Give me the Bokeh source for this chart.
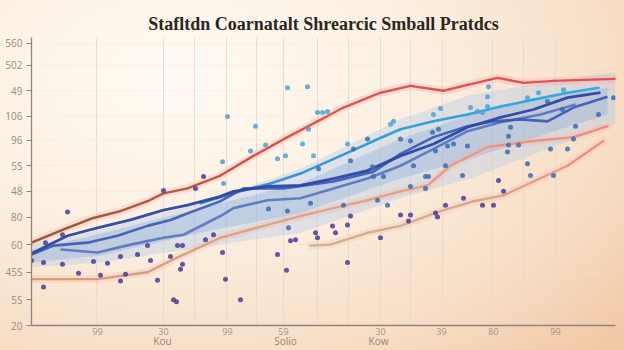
import numpy as np
from bokeh.plotting import figure
from bokeh.models import ColumnDataSource, Range1d, FixedTicker, LinearAxis
from bokeh.embed import file_html
from bokeh.resources import INLINE

title_text = "Stafltdn Coarnatalt Shrearcic Smball Pratdcs"

# ---- axes ----
y_ticks = [0, 13, 27, 41, 55, 68, 81, 94, 106, 119, 132, 143]
y_labels = ["20", "5S", "45S", "60", "80", "48", "5S", "96", "106", "49", "502", "560"]
x_ticks = [16.5, 33, 49, 63, 87.25, 102.5, 115.5, 131]
x_labels = ["99", "30", "99", "59", "30", "39", "80", "99"]
grid_x = [16.25, 33, 40.75, 48.75, 56.25, 63, 71.5, 79.25, 87.25, 94.75, 102.75, 115.25, 123, 131]
group_names = ["Kou", "Solio", "Kow"]
group_x = [32.75, 63.5, 86.75]

# ---- lines ----
red_x = [0, 9, 15.5, 22.25, 29, 33, 39, 47.25, 55.5, 64, 71.5, 78, 87.25, 94.75, 103, 109, 116.5, 123, 130.5, 146]
red_y = [42, 49.5, 54.5, 58, 63, 67, 69.5, 76, 86, 95.5, 103.5, 110.5, 118, 121.5, 119, 122, 125.5, 123, 124, 125]

salmon1_x = [0, 16.5, 29, 36.5, 47.25, 59, 67.25, 75.5, 84, 92.25, 99, 104.75, 114, 125.5, 135.5, 144]
salmon1_y = [23.5, 23.5, 27, 34.5, 44.5, 51, 55.5, 59.5, 63.5, 68, 71, 81, 90.5, 93.5, 95.5, 101]

salmon2_x = [69.75, 74.75, 84, 92.25, 102.25, 110.5, 118, 125.5, 134, 143]
salmon2_y = [40.5, 41, 47, 50.5, 58, 63, 66, 73, 81, 93.5]

navyA_x = [0, 9, 16.5, 24.75, 33, 39, 47.25, 50.5, 59, 67.25, 75.5, 84, 92.25, 100.5, 109, 117.25, 125.5, 134, 142.25]
navyA_y = [36.5, 45.5, 49.5, 53.5, 58.5, 61, 65.5, 68, 70.5, 71, 74.5, 78.5, 86, 92, 100.5, 105.5, 109.5, 115.5, 118]

navyB_x = [0, 5.5, 14, 21.5, 29, 34.75, 40.5, 47.25, 53, 63, 75.5, 85.5, 92.25, 100.5, 109, 115.5, 122.25, 129, 135.5, 144]
navyB_y = [36, 40.5, 42, 45.5, 50.5, 53.5, 58, 63, 69.5, 69.5, 73, 78, 87, 95.5, 101, 103.5, 104.5, 103.5, 110.5, 116]

slate_x = [7.25, 16.5, 24.75, 33, 38, 47.25, 50.5, 59, 67.25, 75.5, 84, 92.25, 100.5, 109, 117.25, 127.25, 136]
slate_y = [38.5, 37, 41, 44.5, 46, 55.5, 59.5, 63.5, 64.5, 69.5, 74.5, 81, 89.5, 98.5, 103, 107, 112]

cyan_x = [42.25, 53, 59.75, 67.25, 77.25, 85.5, 92.25, 100.5, 109, 117.25, 125.5, 134, 141.75]
cyan_y = [62, 68.5, 72, 77, 86, 93.5, 99.5, 103.5, 107, 111, 114.5, 118, 120.5]

# ---- bands ----
band_out_x = [0, 17.25, 42.25, 67.25, 92.25, 109.75, 132.25, 146]
band_out_hi = [40.5, 48.5, 62, 79.5, 104.5, 117, 124.5, 128.5]
band_out_lo = [29.5, 32, 39.5, 47, 64.5, 74.5, 92, 102]
band_in_x = [0, 17.25, 42.25, 67.25, 92.25, 109.75, 132.25, 144]
band_in_hi = [38.5, 46.5, 59.5, 72, 94.5, 107, 117, 120.5]
band_in_lo = [32, 35.5, 47, 57, 74.5, 84.5, 99.5, 107]

# ---- scattered points ----
purple_x = [0, 3.5, 9, 7.75, 3, 7.75, 11.75, 3, 15.5, 19, 17.25, 22.25, 23.5, 22.25, 26.5, 29, 29.75, 31.5,
            36.5, 37.75, 34.75, 37.75, 37.25, 35.5, 36.25, 43.5, 45.5, 47.75, 48.5, 52.25, 61.5, 63.75, 64.75,
            66, 71, 71.5, 75.25, 76, 79, 79.75, 79, 87.25, 92.25, 94.75, 94.25, 101, 101.5, 103.5, 108, 112.75,
            115.5, 116.75, 118, 33, 41, 43]
purple_y = [33, 42, 57.5, 46, 32, 31, 26.5, 19.5, 32.5, 31.5, 25.5, 35, 26, 22.5, 36, 40.5, 33, 23,
            40.5, 40.5, 35, 31, 28.5, 13, 12, 43.5, 46, 37, 23.5, 13, 36, 28, 43,
            43.5, 47, 44.5, 50.5, 47, 51, 55.5, 32, 44.5, 56, 56, 53, 57, 55, 61, 64.5, 61,
            61, 73.5, 68, 68.5, 69.5, 75.5]
blue_x = [59.25, 64, 64.25, 69.75, 78, 86.5, 89, 94.75, 98.5, 99.25, 98.5, 85.25, 85.5, 88, 95.5, 103.5,
          107.75, 104, 105.5, 101, 109, 119, 119.25, 121.75, 119.25, 119.75, 124, 124.75, 129.75, 134,
          135.5, 136, 130.5, 141.75, 145.5, 132.75, 129, 100.25, 101.75, 79.75, 71.75, 80.5, 84, 92.25, 94.75]
blue_y = [59, 58, 49.5, 62, 61, 63.5, 61, 70.5, 75.5, 75.5, 69.5, 80.5, 75.5, 75.5, 81, 81,
          76, 91, 92, 88.5, 91, 88, 91.5, 91.5, 96, 100.5, 82, 76, 89.5, 89.5,
          94.5, 101, 76, 107, 115.5, 109.5, 113.5, 98, 99.5, 83.5, 79.5, 89.5, 94.5, 94.5, 93.5]
light_x = [47.75, 49, 48, 54.75, 56, 58.5, 61.5, 63.5, 64, 67.75, 69, 69.25, 70.5, 71.5, 72.75, 74, 79,
           89.75, 90.5, 100.5, 102.25, 109.75, 111.5, 112.75, 114.25, 114, 114, 124, 126.75, 133]
light_y = [83, 106, 72, 88.5, 101, 91.5, 84.5, 86, 120.5, 92, 121, 99.5, 86, 108, 108, 108.5, 92,
           102, 103.5, 107, 110, 110.5, 108.5, 108, 121, 116, 111, 115.5, 118, 119.5]


def hex_rgb(h):
    return np.array([int(h[i:i + 2], 16) for i in (1, 3, 5)], dtype=float)


def mix(stops, t):
    for (p0, c0), (p1, c1) in zip(stops[:-1], stops[1:]):
        if t <= p1:
            f = 0 if p1 == p0 else (t - p0) / (p1 - p0)
            c = hex_rgb(c0) * (1 - f) + hex_rgb(c1) * f
            return "#%02x%02x%02x" % tuple(int(round(v)) for v in c)
    return stops[-1][1]


def grad_line(p, xs, ys, stops, width, alpha=1.0):
    x0, x1 = xs[0], xs[-1]
    segx, segy, cols = [], [], []
    for i in range(len(xs) - 1):
        segx.append([xs[i], xs[i + 1]])
        segy.append([ys[i], ys[i + 1]])
        t = ((xs[i] + xs[i + 1]) / 2 - x0) / (x1 - x0)
        cols.append(mix(stops, t))
    src = ColumnDataSource(dict(xs=segx, ys=segy, c=cols))
    p.multi_line("xs", "ys", source=src, line_color="c", line_width=width,
                 line_alpha=alpha, line_cap="round", line_join="round")


p = figure(width=624, height=350, x_range=Range1d(0, 146), y_range=Range1d(0, 146),
           output_backend="svg", toolbar_location=None,
           min_border_left=31, min_border_right=9, min_border_top=37, min_border_bottom=22,
           background_fill_color=None, border_fill_color=None, outline_line_color=None)
p.styles = {"background": "radial-gradient(ellipse 95% 110% at 28% 22%, #fffaf3 0%, #fcf0e2 40%, #f7dcc2 78%, #f2c9a6 100%)"}

p.title.text = title_text
p.title.align = "center"
p.title.vertical_align = "top"
p.title.text_font = "Liberation Serif"
p.title.text_font_size = "18px"
p.title.text_font_style = "bold"
p.title.text_color = "#2b2622"
p.title.standoff = 4

# axes
p.xaxis.ticker = FixedTicker(ticks=x_ticks)
p.xaxis.major_label_overrides = {t: l for t, l in zip(x_ticks, x_labels)}
p.xaxis.major_tick_in = 0
p.xaxis.major_tick_out = 0
p.xaxis.minor_tick_line_color = None
p.xaxis.axis_line_color = "#8d8580"
p.xaxis.axis_line_width = 1.3
p.xaxis.major_label_text_font = "Open Sans"
p.xaxis.major_label_text_font_size = "9px"
p.xaxis.major_label_text_color = "#a0958c"
p.xaxis.major_label_standoff = 2

group_axis = LinearAxis(ticker=FixedTicker(ticks=group_x),
                        major_label_overrides={t: n for t, n in zip(group_x, group_names)},
                        axis_line_color=None, major_tick_line_color=None, minor_tick_line_color=None,
                        major_tick_in=0, major_tick_out=0, major_label_standoff=-4,
                        major_label_text_font="Open Sans", major_label_text_font_size="10px",
                        major_label_text_color="#8f8680")
p.add_layout(group_axis, "below")

p.yaxis.ticker = FixedTicker(ticks=y_ticks)
p.yaxis.major_label_overrides = {t: l for t, l in zip(y_ticks, y_labels)}
p.yaxis.major_tick_in = 0
p.yaxis.major_tick_out = 5
p.yaxis.major_tick_line_color = "#8d8580"
p.yaxis.minor_tick_line_color = None
p.yaxis.axis_line_color = "#8d8580"
p.yaxis.axis_line_width = 1.3
p.yaxis.major_label_text_font = "Open Sans"
p.yaxis.major_label_text_font_size = "10px"
p.yaxis.major_label_text_color = "#978b83"
p.yaxis.major_label_standoff = 4

p.xgrid.ticker = FixedTicker(ticks=grid_x)
p.xgrid.grid_line_color = "#e5d8ca"
p.xgrid.grid_line_alpha = 0.8
p.ygrid.ticker = FixedTicker(ticks=y_ticks)
p.ygrid.grid_line_color = "#efe3d6"
p.ygrid.grid_line_alpha = 0.35

# bands
p.varea(x=band_out_x, y1=band_out_lo, y2=band_out_hi, fill_color="#a8c6ec", fill_alpha=0.35)
p.varea(x=band_in_x, y1=band_in_lo, y2=band_in_hi, fill_color="#6e9edc", fill_alpha=0.28)

# glows
for xs, ys, col in [(red_x, red_y, "#f2a0a0"), (salmon1_x, salmon1_y, "#f6b0a8"),
                    (salmon2_x, salmon2_y, "#f6b8ac")]:
    p.line(xs, ys, line_color=col, line_width=8, line_alpha=0.25, line_cap="round")

# lines
grad_line(p, red_x, red_y, [(0, "#8e5a36"), (0.45, "#d85a4e"), (1, "#ec4a5a")], 2.4)
grad_line(p, salmon1_x, salmon1_y, [(0, "#d49c76"), (0.5, "#dba98a"), (1, "#f38a80")], 2.4)
grad_line(p, salmon2_x, salmon2_y, [(0, "#cfb090"), (0.5, "#d8ad8c"), (1, "#f58c80")], 2.4)
p.line(slate_x, slate_y, line_color="#5874bb", line_width=2.6, line_alpha=0.9, line_join="round")
grad_line(p, cyan_x, cyan_y, [(0, "#3a8ed0"), (1, "#2cb0e0")], 2.6)
p.line(navyB_x, navyB_y, line_color="#3858b4", line_width=2.6, line_alpha=0.9, line_join="round")
p.line(navyA_x, navyA_y, line_color="#2c46a4", line_width=2.8, line_alpha=0.95, line_join="round")

# points
p.scatter(purple_x, purple_y, size=5, fill_color="#4b3a98", line_color=None, fill_alpha=0.85)
p.scatter(blue_x, blue_y, size=5, fill_color="#3a6cb2", line_color=None, fill_alpha=0.85)
p.scatter(light_x, light_y, size=5, fill_color="#4ea2d4", line_color=None, fill_alpha=0.85)

open("out.html", "w").write(file_html(p, INLINE))
